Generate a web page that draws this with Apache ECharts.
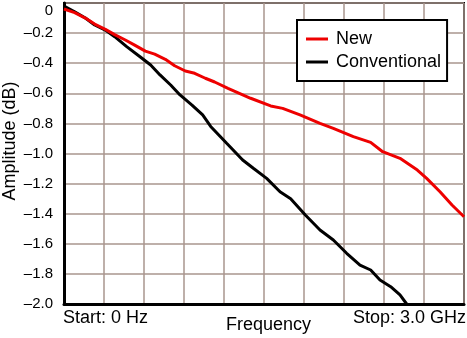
<!DOCTYPE html>
<html>
<head>
<meta charset="utf-8">
<script src="https://cdn.jsdelivr.net/npm/echarts@6/dist/echarts.min.js"></script>
<style>
html,body{margin:0;padding:0;background:#fff;}
#chart{width:467px;height:338px;}
</style>
</head>
<body>
<div id="chart"></div>
<script>
// Frequency (GHz) and amplitude (dB) for each trace
const newFreq = [0, 0.08, 0.16, 0.23, 0.31, 0.38, 0.46, 0.53, 0.61, 0.68, 0.76, 0.83, 0.91, 0.98, 1.06, 1.13, 1.23, 1.40, 1.55, 1.64, 1.77, 1.92, 2.02, 2.17, 2.30, 2.39, 2.52, 2.65, 2.72, 2.82, 2.91, 3.0];
const newAmp  = [-0.04, -0.064, -0.10, -0.14, -0.175, -0.21, -0.246, -0.28, -0.32, -0.34, -0.374, -0.417, -0.452, -0.467, -0.50, -0.525, -0.567, -0.633, -0.684, -0.70, -0.744, -0.80, -0.833, -0.888, -0.926, -0.988, -1.032, -1.11, -1.165, -1.254, -1.342, -1.42];

const convFreq = [0, 0.08, 0.16, 0.23, 0.31, 0.38, 0.47, 0.57, 0.65, 0.72, 0.80, 0.87, 0.96, 1.04, 1.10, 1.22, 1.34, 1.42, 1.52, 1.62, 1.70, 1.81, 1.92, 2.02, 2.12, 2.22, 2.30, 2.37, 2.45, 2.52, 2.57];
const convAmp  = [-0.02, -0.058, -0.10, -0.146, -0.18, -0.224, -0.29, -0.357, -0.412, -0.478, -0.545, -0.611, -0.678, -0.744, -0.82, -0.932, -1.043, -1.098, -1.165, -1.254, -1.30, -1.409, -1.508, -1.575, -1.663, -1.741, -1.774, -1.841, -1.885, -1.94, -2.0];

const seriesNames = ['New', 'Conventional'];
const xLabelStart = 'Start: 0 Hz';
const xLabelStop = 'Stop: 3.0 GHz';
const xTitle = 'Frequency';
const yTitle = 'Amplitude (dB)';

const zip = (a, b) => a.map((v, i) => [v, b[i]]);
const FONT = '"Liberation Sans", Arial, Helvetica, sans-serif';

const chart = echarts.init(document.getElementById('chart'), null, {renderer: 'canvas'});
chart.setOption({
  animation: false,
  backgroundColor: '#ffffff',
  textStyle: {fontFamily: FONT},
  grid: {left: 64, right: 3, top: 3, bottom: 34, containLabel: false, outerBoundsMode: 'none',
         show: true, borderColor: '#000', borderWidth: 2, backgroundColor: 'transparent'},
  xAxis: {
    type: 'value', min: 0, max: 3, interval: 0.3,
    axisLine: {show: true, onZero: false, lineStyle: {color: '#000', width: 3}},
    axisTick: {show: false},
    axisLabel: {show: false},
    splitLine: {show: true, lineStyle: {color: '#a8968e', width: 1.5}}
  },
  yAxis: {
    type: 'value', min: -2, max: 0, interval: 0.2,
    axisLine: {show: true, onZero: false, lineStyle: {color: '#000', width: 3}},
    axisTick: {show: false},
    axisLabel: {
      fontSize: 15, color: '#000', margin: 11, fontFamily: FONT,
      verticalAlignMaxLabel: 'top',
      formatter: v => Math.abs(v) < 1e-9 ? '0' : '\u2013' + Math.abs(v).toFixed(1)
    },
    splitLine: {show: true, lineStyle: {color: '#a8968e', width: 1.5}}
  },
  legend: {
    orient: 'vertical', left: 297, top: 20,
    data: seriesNames,
    backgroundColor: '#fff', borderColor: '#000', borderWidth: 2,
    padding: [10, 6, 10, 9],
    icon: 'rect', itemWidth: 22, itemHeight: 3, itemGap: 5,
    textStyle: {fontSize: 18, color: '#000', lineHeight: 18, fontFamily: FONT, padding: [0, 0, 0, 3]}
  },
  series: [
    {name: seriesNames[0], type: 'line', data: zip(newFreq, newAmp), showSymbol: false, symbol: 'none',
     lineStyle: {color: '#ee0000', width: 3}, itemStyle: {color: '#ee0000'}, z: 3},
    {name: seriesNames[1], type: 'line', data: zip(convFreq, convAmp), showSymbol: false, symbol: 'none',
     lineStyle: {color: '#000', width: 3}, itemStyle: {color: '#000'}, z: 2}
  ],
  graphic: [
    {type: 'text', x: 10, y: 141, rotation: Math.PI / 2,
     style: {text: yTitle, fontSize: 18, fill: '#000', fontFamily: FONT, align: 'center', verticalAlign: 'middle'}},
    {type: 'text', left: 63, top: 309, style: {text: xLabelStart, fontSize: 18, fill: '#000', fontFamily: FONT}},
    {type: 'text', right: 1, top: 309, style: {text: xLabelStop, fontSize: 18, fill: '#000', fontFamily: FONT}},
    {type: 'text', left: 226, top: 316, style: {text: xTitle, fontSize: 18, fill: '#000', fontFamily: FONT}}
  ]
});
</script>
</body>
</html>
